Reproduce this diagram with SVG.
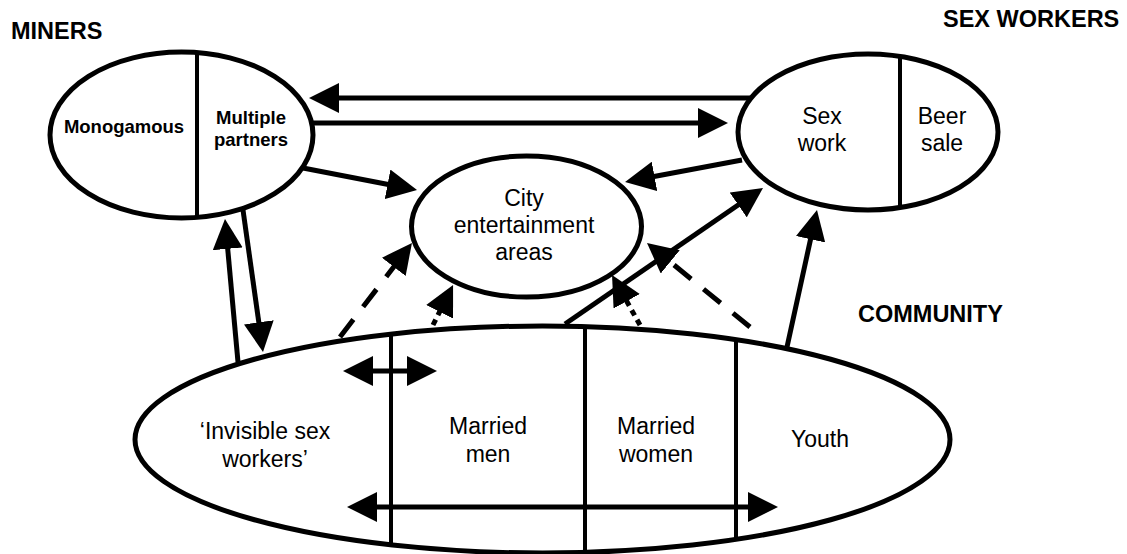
<svg xmlns="http://www.w3.org/2000/svg" width="1127" height="554" viewBox="0 0 1127 554">
<style>
  .shape { fill: #fff; stroke: #000; stroke-width: 5; }
  .div { stroke: #000; stroke-width: 4; fill: none; }
  .t { font-family: "Liberation Sans", Arial, sans-serif; font-size: 23px; fill: #000; text-anchor: middle; }
  .tb { font-family: "Liberation Sans", Arial, sans-serif; font-size: 18.5px; font-weight: bold; fill: #000; text-anchor: middle; }
  .hdr { font-family: "Liberation Sans", Arial, sans-serif; font-size: 23.5px; font-weight: bold; fill: #000; }
  .c { stroke: #000; stroke-width: 5; fill: none; marker-end: url(#ah); }
  .dbl { marker-start: url(#ah); }
  .dash { stroke-dasharray: 22 16; }
  .dot { stroke-dasharray: 6 5; }
</style>
<defs>
  <marker id="ah" markerUnits="userSpaceOnUse" markerWidth="30" markerHeight="30" viewBox="0 0 30 30" refX="10" refY="15" orient="auto-start-reverse">
    <path d="M0,0 L30,15 L0,30 z" fill="#000"/>
  </marker>
  <clipPath id="clipMiners"><ellipse cx="181.5" cy="135" rx="131.5" ry="83"/></clipPath>
  <clipPath id="clipSex"><ellipse cx="868" cy="132" rx="130" ry="78"/></clipPath>
  <clipPath id="clipComm"><ellipse cx="542.5" cy="439.5" rx="407.5" ry="113.5"/></clipPath>
</defs>
<rect width="1127" height="554" fill="#fff"/>

<g id="label-miners"><text class="hdr" x="11" y="39">MINERS</text></g>
<g id="label-sexworkers"><text class="hdr" x="943" y="27">SEX WORKERS</text></g>
<g id="label-community"><text class="hdr" x="858" y="322">COMMUNITY</text></g>

<g id="miners">
  <ellipse class="shape" cx="181.5" cy="135" rx="131.5" ry="83"/>
  <line class="div" x1="197" y1="40" x2="197" y2="230" clip-path="url(#clipMiners)"/>
  <text class="tb" x="124" y="133">Monogamous</text>
  <text class="tb" x="251" y="124">Multiple</text>
  <text class="tb" x="251" y="146">partners</text>
</g>

<g id="sexworkers">
  <ellipse class="shape" cx="868" cy="132" rx="130" ry="78"/>
  <line class="div" x1="900" y1="40" x2="900" y2="230" clip-path="url(#clipSex)"/>
  <text class="t" x="822" y="124">Sex</text>
  <text class="t" x="822" y="151">work</text>
  <text class="t" x="942" y="124">Beer</text>
  <text class="t" x="942" y="151">sale</text>
</g>

<g id="city">
  <ellipse class="shape" cx="526.5" cy="226.5" rx="115" ry="70.5"/>
  <text class="t" x="524" y="206">City</text>
  <text class="t" x="524" y="233">entertainment</text>
  <text class="t" x="524" y="260">areas</text>
</g>

<g id="community">
  <ellipse class="shape" cx="542.5" cy="439.5" rx="407.5" ry="113.5"/>
  <g clip-path="url(#clipComm)">
    <line class="div" x1="391" y1="310" x2="391" y2="560"/>
    <line class="div" x1="585" y1="310" x2="585" y2="560"/>
    <line class="div" x1="736" y1="310" x2="736" y2="560"/>
  </g>
  <text class="t" x="265" y="439">‘Invisible sex</text>
  <text class="t" x="265" y="467">workers’</text>
  <text class="t" x="488" y="434">Married</text>
  <text class="t" x="488" y="462">men</text>
  <text class="t" x="656" y="434">Married</text>
  <text class="t" x="656" y="462">women</text>
  <text class="t" x="820" y="447">Youth</text>
</g>

<g id="connectors">
  <line class="c" x1="750" y1="98" x2="329" y2="98"/>
  <line class="c" x1="313" y1="123" x2="708" y2="123"/>
  <line class="c" x1="303" y1="168" x2="397.4" y2="186.2"/>
  <line class="c" x1="742" y1="160" x2="644.7" y2="178.3"/>
  <line class="c" x1="238" y1="362" x2="226.8" y2="238.9"/>
  <line class="c" x1="243" y1="210" x2="260.2" y2="332.2"/>
  <line class="c dash" x1="340" y1="337" x2="399.8" y2="258.9"/>
  <line class="c dot" x1="433" y1="325" x2="444.1" y2="302.9"/>
  <line class="c dot" x1="640" y1="325" x2="621.8" y2="292.5"/>
  <line class="c dash" x1="750" y1="327" x2="662.5" y2="255.6"/>
  <line class="c" x1="565" y1="324" x2="746.5" y2="199.3"/>
  <line class="c" x1="787" y1="347" x2="812.7" y2="229.5"/>
  <line class="c dbl" x1="363" y1="371" x2="417" y2="371"/>
  <line class="c dbl" x1="367" y1="507" x2="758" y2="507"/>
</g>
</svg>
